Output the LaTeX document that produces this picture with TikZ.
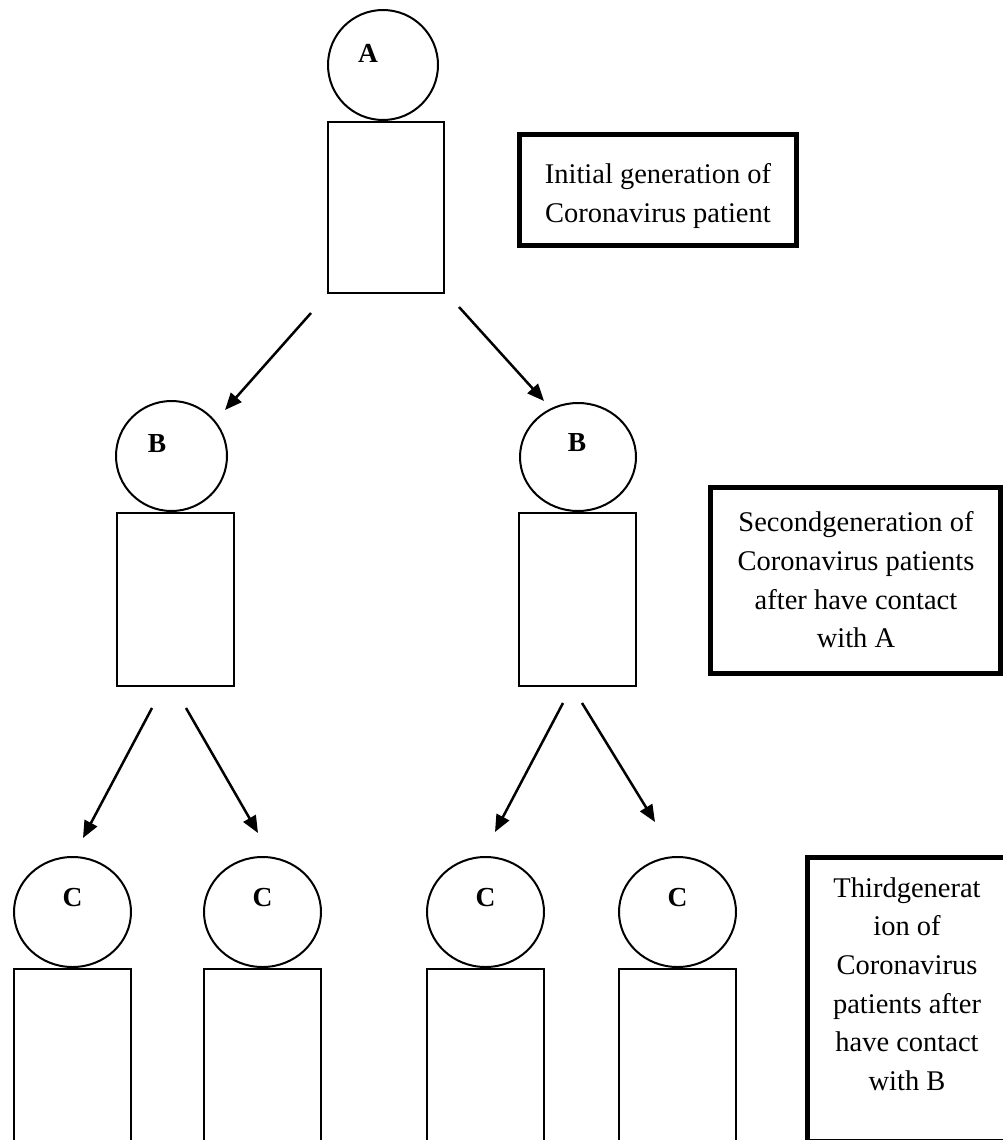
\documentclass[tikz,border=0pt]{standalone}
\usepackage{fontspec}
\setmainfont{Liberation Serif}
\usetikzlibrary{arrows.meta,shapes.geometric}
\begin{document}
\begin{tikzpicture}[x=1pt,y=-1pt,
  head/.style={draw,ellipse,line width=2pt,inner sep=0pt},
  body/.style={draw,rectangle,line width=2pt,inner sep=0pt},
  tag/.style={font=\fontsize{27.5pt}{30pt}\selectfont\bfseries,inner sep=0pt},
  note/.style={draw,rectangle,line width=5pt,inner sep=0pt},
  notetext/.style={align=center,font=\fontsize{28.5pt}{38.7pt}\selectfont,inner sep=0pt},
  arr/.style={-{Triangle[length=17pt,width=14pt]},line width=2.5pt}]
\useasboundingbox (0,0) rectangle (1003,1140);
\clip (0,0) rectangle (1003,1140);
\fill[white] (0,0) rectangle (1003,1140);

% generation A
\node[head,minimum width=110pt,minimum height=110pt] (ca) at (383,65) {};
\node[tag] (la) at (368,53) {A};
\node[body,minimum width=116pt,minimum height=171pt] (ra) at (386,207.5) {};

% generation B
\node[head,minimum width=111pt,minimum height=110pt] (cb1) at (171.5,456) {};
\node[tag] (lb1) at (157,444) {B};
\node[body,minimum width=117pt,minimum height=173pt] (rb1) at (175.5,599.5) {};
\node[head,minimum width=116pt,minimum height=108pt] (cb2) at (578,457) {};
\node[tag] (lb2) at (577,443) {B};
\node[body,minimum width=117pt,minimum height=173pt] (rb2) at (577.5,599.5) {};

% generation C
\foreach \i/\x in {1/72.5,2/262.5,3/485.5,4/677.5}{
  \node[head,minimum width=117pt,minimum height=110pt] (cc\i) at (\x,912) {};
  \node[tag] (lc\i) at (\x,898) {C};
  \node[body,minimum width=117pt,minimum height=180pt] (rc\i) at (\x,1059) {};
}

% notes
\node[note,minimum width=277pt,minimum height=111pt] (n1) at (658,190) {};
\node[notetext] (t1) at (658,196) {Initial generation of\\Coronavirus patient};
\node[note,minimum width=290pt,minimum height=186pt] (n2) at (855.5,580.5) {};
\node[notetext] (t2) at (856,580) {Secondgeneration of\\Coronavirus patients\\after have contact\\with A};
\node[note,minimum width=200pt,minimum height=284pt] (n3) at (907.5,999.5) {};
\node[notetext] (t3) at (907,984) {Thirdgenerat\\ion of\\Coronavirus\\patients after\\have contact\\with B};

% arrows
\draw[arr] ([shift={(-75,19)}]ra.south) -- ([shift={(53.5,-46)}]cb1.center);
\draw[arr] ([shift={(73,13)}]ra.south) -- ([shift={(-34,-56)}]cb2.center);
\draw[arr] ([shift={(-23.5,21)}]rb1.south) -- ([shift={(10.5,-74)}]cc1.center);
\draw[arr] ([shift={(10.5,21)}]rb1.south) -- ([shift={(-4.5,-79)}]cc2.center);
\draw[arr] ([shift={(-14.5,16)}]rb2.south) -- ([shift={(9.5,-80)}]cc3.center);
\draw[arr] ([shift={(4.5,16)}]rb2.south) -- ([shift={(-22.5,-90)}]cc4.center);
\end{tikzpicture}
\end{document}
